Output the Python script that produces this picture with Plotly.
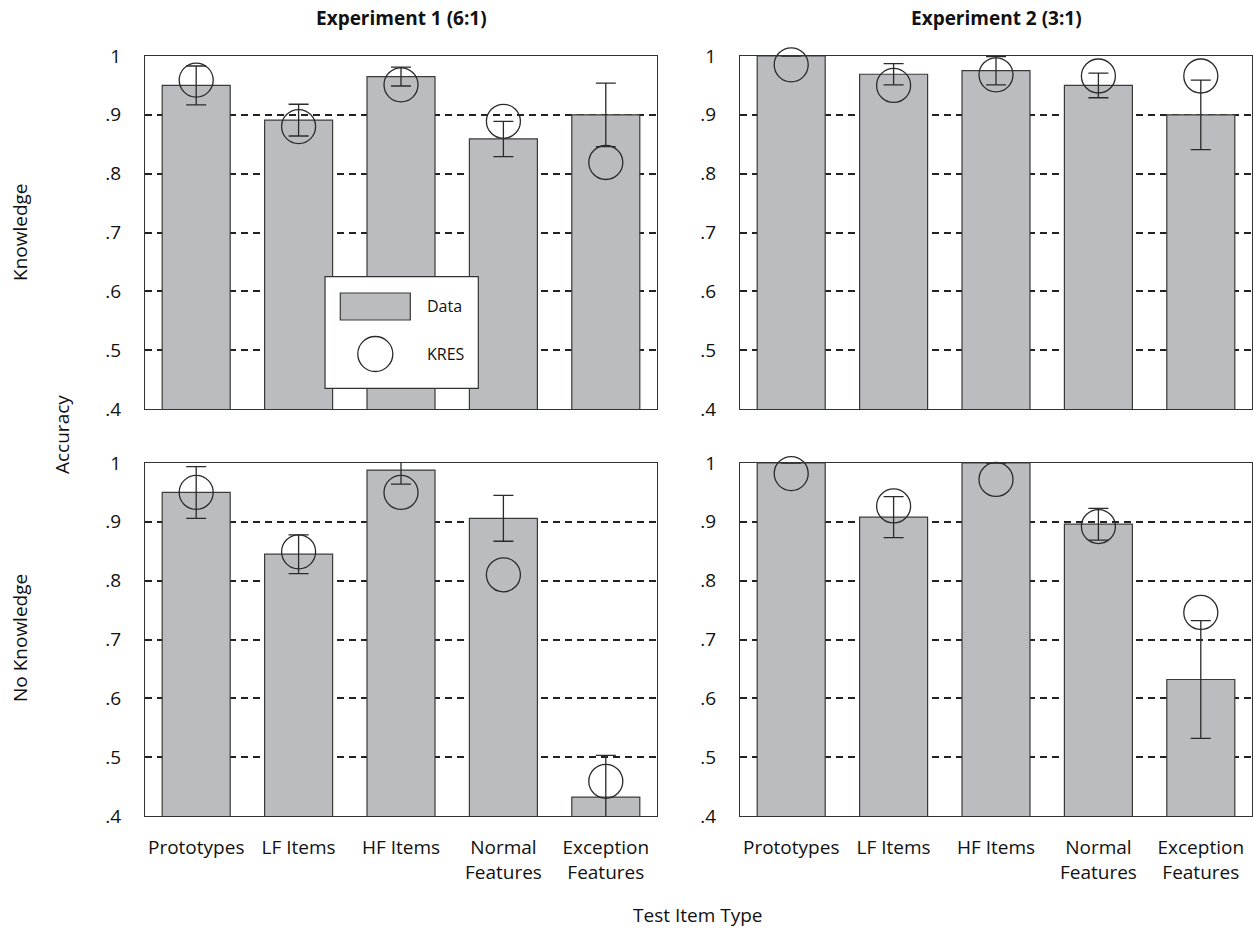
import plotly.graph_objects as go
from plotly.subplots import make_subplots

categories = ["Prototypes", "LF Items", "HF Items", "Normal<br>Features", "Exception<br>Features"]
y_tickvals = [0.4, 0.5, 0.6, 0.7, 0.8, 0.9, 1.0]
y_ticktext = [".4", ".5", ".6", ".7", ".8", ".9", "1"]

# Experiment 1 (6:1), Knowledge
exp1_know_data = [0.950, 0.891, 0.965, 0.859, 0.900]
exp1_know_err = [0.033, 0.027, 0.016, 0.030, 0.054]
exp1_know_kres = [0.959, 0.880, 0.951, 0.889, 0.819]
# Experiment 2 (3:1), Knowledge
exp2_know_data = [1.000, 0.969, 0.975, 0.950, 0.900]
exp2_know_err = [0.0, 0.018, 0.024, 0.021, 0.059]
exp2_know_kres = [0.985, 0.950, 0.968, 0.966, 0.966]
# Experiment 1 (6:1), No Knowledge
exp1_nok_data = [0.950, 0.845, 0.988, 0.906, 0.432]
exp1_nok_err = [0.044, 0.033, 0.024, 0.039, 0.071]
exp1_nok_kres = [0.950, 0.849, 0.950, 0.810, 0.459]
# Experiment 2 (3:1), No Knowledge
exp2_nok_data = [1.000, 0.908, 1.000, 0.896, 0.632]
exp2_nok_err = [0.0, 0.035, 0.0, 0.027, 0.100]
exp2_nok_kres = [0.982, 0.927, 0.972, 0.892, 0.746]

FONT = "Open Sans"
BAR_FILL = "#BBBCC0"
DARK = "#2a2a2a"

W, H = 1253, 932
# pixel layout of the plot areas
xl = [145, 657]
xr = [740, 1252]
yt = [56, 409]
yb = [463, 816]

def px_x(a, b):
    return [a / W, b / W]

def px_y(top, bottom):
    return [1 - bottom / H, 1 - top / H]

fig = make_subplots(rows=2, cols=2)

panels = [
    (1, 1, exp1_know_data, exp1_know_err, exp1_know_kres),
    (1, 2, exp2_know_data, exp2_know_err, exp2_know_kres),
    (2, 1, exp1_nok_data, exp1_nok_err, exp1_nok_kres),
    (2, 2, exp2_nok_data, exp2_nok_err, exp2_nok_kres),
]

for r, c, d, e, k in panels:
    fig.add_trace(go.Bar(
        x=categories, y=d,
        marker=dict(color=BAR_FILL, line=dict(color="#3a3a3a", width=1.2)),
        error_y=dict(type="data", array=e, visible=True, color=DARK, thickness=1.3, width=10),
        showlegend=False, name="Data",
    ), row=r, col=c)
    fig.add_trace(go.Scatter(
        x=categories, y=k, mode="markers",
        marker=dict(symbol="circle-open", size=34, color=DARK, line=dict(width=1.3, color=DARK)),
        showlegend=False, name="KRES", cliponaxis=False,
    ), row=r, col=c)

axis_common = dict(
    showline=True, mirror=True, linecolor="#333333", linewidth=1.2,
    ticks="", automargin=False,
)

domains = {
    (1, 1): (px_x(*xl), px_y(*yt)),
    (1, 2): (px_x(*xr), px_y(*yt)),
    (2, 1): (px_x(*xl), px_y(*yb)),
    (2, 2): (px_x(*xr), px_y(*yb)),
}
for (r, c), (dx, dy) in domains.items():
    fig.update_xaxes(domain=dx, showgrid=False, showticklabels=(r == 2),
                     tickfont=dict(family=FONT, size=19, color="#111"),
                     ticklabelstandoff=14, row=r, col=c, **axis_common)
    fig.update_yaxes(domain=dy, range=[0.4, 1.0], tickvals=y_tickvals, ticktext=y_ticktext,
                     showgrid=True, gridcolor="#222222", gridwidth=1.5, griddash="7px,5px",
                     zeroline=False,
                     tickfont=dict(family=FONT, size=19, color="#111"),
                     ticklabelstandoff=19, row=r, col=c, **axis_common)

fig.update_layout(
    width=W, height=H,
    margin=dict(l=0, r=0, t=0, b=0),
    paper_bgcolor="white", plot_bgcolor="white",
    bargap=0.336,
    font=dict(family=FONT, size=19, color="#111"),
)

# Legend box drawn in the top-left panel
legend_shapes = [
    dict(type="rect", xref="x domain", yref="y domain", x0=0.3516, x1=0.6510, y0=0.0586, y1=0.3748,
         fillcolor="white", line=dict(color="#333", width=1.2), layer="above"),
    dict(type="rect", xref="x domain", yref="y domain", x0=0.3814, x1=0.5182, y0=0.2521, y1=0.3286,
         fillcolor=BAR_FILL, line=dict(color="#3a3a3a", width=1.2), layer="above"),
    dict(type="circle", xref="x domain", yref="y domain", x0=0.4498 - 0.0342, x1=0.4498 + 0.0342,
         y0=0.1558 - 0.0496, y1=0.1558 + 0.0496,
         fillcolor="white", line=dict(color=DARK, width=1.3), layer="above"),
]
for s in legend_shapes:
    fig.add_shape(**s)

ann = [
    dict(text="Data", x=0.5469, y=0.2904, xref="x domain", yref="y domain", xanchor="left", yanchor="middle",
         font=dict(family=FONT, size=16, color="#111")),
    dict(text="KRES", x=0.5469, y=0.1558, xref="x domain", yref="y domain", xanchor="left", yanchor="middle",
         font=dict(family=FONT, size=16, color="#111")),
    dict(text="<b>Experiment 1 (6:1)</b>", x=(xl[0] + xl[1]) / 2 / W, y=1 - 18 / H, xref="paper", yref="paper",
         xanchor="center", yanchor="middle", font=dict(family=FONT, size=19, color="#111")),
    dict(text="<b>Experiment 2 (3:1)</b>", x=(xr[0] + xr[1]) / 2 / W, y=1 - 18 / H, xref="paper", yref="paper",
         xanchor="center", yanchor="middle", font=dict(family=FONT, size=19, color="#111")),
    dict(text="Knowledge", x=20 / W, y=1 - 232 / H, xref="paper", yref="paper", textangle=-90,
         xanchor="center", yanchor="middle", font=dict(family=FONT, size=19, color="#111")),
    dict(text="No Knowledge", x=20 / W, y=1 - 638 / H, xref="paper", yref="paper", textangle=-90,
         xanchor="center", yanchor="middle", font=dict(family=FONT, size=19, color="#111")),
    dict(text="Accuracy", x=62 / W, y=1 - 435 / H, xref="paper", yref="paper", textangle=-90,
         xanchor="center", yanchor="middle", font=dict(family=FONT, size=19, color="#111")),
    dict(text="Test Item Type", x=698 / W, y=1 - 915 / H, xref="paper", yref="paper",
         xanchor="center", yanchor="middle", font=dict(family=FONT, size=19, color="#111")),
]
for a in ann:
    fig.add_annotation(showarrow=False, **a)

fig.write_html(
    "out.html",
    config={"displayModeBar": False},
    post_script="document.body.style.margin='0';document.body.style.overflow='hidden';",
)
